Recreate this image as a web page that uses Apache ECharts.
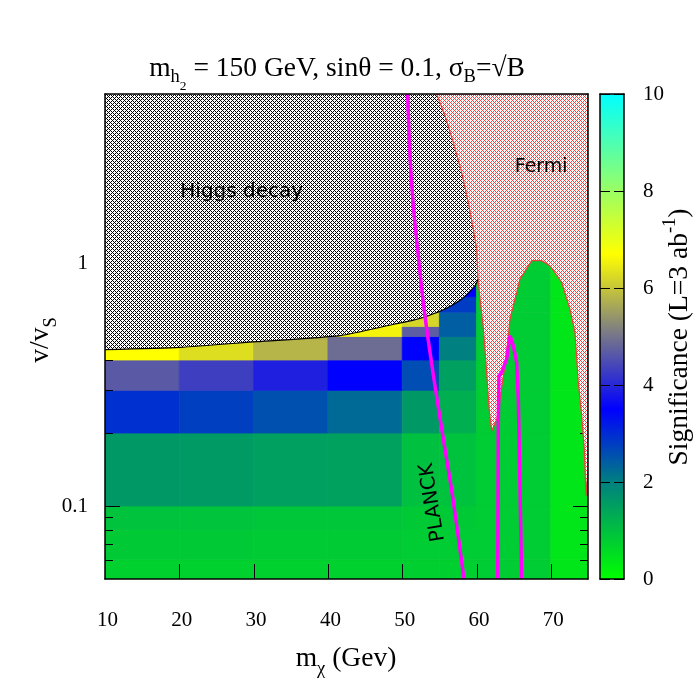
<!DOCTYPE html>
<html><head><meta charset="utf-8">
<script src="https://cdn.jsdelivr.net/npm/echarts@6/dist/echarts.min.js"></script>
<style>html,body{margin:0;padding:0;background:#fff}#c{width:700px;height:700px}</style>
</head><body><div id="c"></div>
<script>
// ---------------- data ----------------
// heat-map bin edges
const xEdges = [10, 20, 30, 40, 50, 55, 60, 70, 75];
const yEdges = [0.05, 0.06, 0.08, 0.1, 0.2, 0.3, 0.4, 0.5, 0.55, 0.63, 0.73, 5];
// significance per row (bottom -> top), per x column
const sigRow0  = [0.72, 0.72, 0.72, 0.72, 0.75, 0.75, 0.8, 0.39];
const sigRow1  = [0.85, 0.85, 0.82, 0.82, 0.8, 0.8, 0.8, 0.39];
const sigRow2  = [0.95, 0.93, 0.9, 0.9, 0.85, 0.85, 0.8, 0.39];
const sigRow3  = [1.6, 1.58, 1.5, 1.48, 1.0, 0.95, 0.8, 0.39];
const sigRow4  = [2.94, 2.75, 2.56, 2.26, 1.6, 1.25, 0.8, 0.39];
const sigRow5  = [4.65, 4.3, 3.9, 3.5, 2.6, 1.5, 0.8, 0.39];
const sigRow6  = [6.7, 6.3, 5.8, 4.9, 3.5, 2.0, 0.8, 0.39];
const sigRow7  = [6.7, 6.3, 5.8, 6.55, 4.7, 2.4, 0.8, 0.39];
const sigRow8  = [6.7, 6.3, 5.8, 6.8, 6.2, 2.4, 0.8, 0.39];
const sigRow9  = [6.7, 6.3, 5.8, 6.8, 6.2, 2.8, 0.8, 0.39];
const sigRow10 = [6.7, 6.3, 5.8, 6.8, 6.2, 3.5, 0.8, 0.39];
const sigRows = [sigRow0, sigRow1, sigRow2, sigRow3, sigRow4, sigRow5, sigRow6, sigRow7, sigRow8, sigRow9, sigRow10];

// Higgs-decay excluded region: lower boundary (left -> right)
const higgsLowX = [10, 20.09, 30.41, 41.62, 49.03, 51.27, 53.51, 55.75, 58.0, 59.79, 60.2];
const higgsLowY = [0.441, 0.451, 0.476, 0.504, 0.563, 0.581, 0.609, 0.649, 0.714, 0.81, 0.86];
// shared Higgs / Fermi boundary (top -> down)
const edgeX = [54.64, 55.75, 56.87, 58.0, 58.89, 59.56, 60.02, 60.2];
const edgeY = [5, 4.07, 3.16, 2.377, 1.788, 1.388, 1.148, 0.86];
// Fermi region remaining boundary (after shared edge, going down/right)
const fermiX = [60.5, 60.9, 61.3, 61.7, 62.04, 62.93, 63.16, 64.06, 64.5, 64.95, 65.85, 67.42, 68.77, 69.88, 71.46, 72.57, 73.25, 73.69, 74.15, 74.5, 74.73, 75, 75];
const fermiY = [0.7, 0.55, 0.38, 0.25, 0.204, 0.236, 0.276, 0.43, 0.59, 0.67, 0.863, 1.027, 1.027, 0.979, 0.837, 0.649, 0.52, 0.324, 0.236, 0.172, 0.11, 0.142, 5];

// PLANCK contours
const planck1X = [50.73, 51.04, 51.49, 52.16, 52.83, 53.67, 54.68, 55.75, 56.83, 58.31];
const planck1Y = [5, 2.783, 1.731, 1.077, 0.692, 0.444, 0.2763, 0.1718, 0.1069, 0.05];
const planck2X = [62.85, 62.93, 63.02, 63.38, 64.06, 64.5, 64.95, 65.4, 65.62, 65.75, 66.07];
const planck2Y = [0.05, 0.2285, 0.3446, 0.356, 0.404, 0.504, 0.458, 0.391, 0.276, 0.172, 0.05];

// annotations
const annText = ['Higgs decay', 'Fermi', 'PLANCK'];
const annX = [28.4, 68.7, 54.1];
const annY = [1.97, 2.5, 0.1036];

// ticks
const xTickVals = [20, 30, 40, 50, 60, 70];
const yTickVals = [0.06, 0.07, 0.08, 0.09, 0.1, 0.2, 0.3, 0.4, 0.5, 0.6, 0.7, 0.8, 0.9, 1, 2, 3, 4];

// palette (significance -> colour)
const palStops = [0, 2, 3.5, 5.15, 6.7, 10];
const palColors = ['#00ff00', '#008080', '#0000ff', '#808080', '#ffff00', '#00ffff'];

// ---------------- helpers ----------------
function hex2rgb(h) { return [1, 3, 5].map(i => parseInt(h.substr(i, 2), 16)); }
function palette(v) {
  v = Math.max(0, Math.min(10, v));
  for (let k = 0; k < palStops.length - 1; k++) {
    if (v <= palStops[k + 1]) {
      const f = (v - palStops[k]) / (palStops[k + 1] - palStops[k]);
      const a = hex2rgb(palColors[k]), b = hex2rgb(palColors[k + 1]);
      return 'rgb(' + a.map((c, i) => Math.round(c + (b[i] - c) * f)).join(',') + ')';
    }
  }
  return palColors[palColors.length - 1];
}
function makePattern(color) {
  const c = document.createElement('canvas'); c.width = 4; c.height = 4;
  const g = c.getContext('2d');
  g.fillStyle = '#ffffff'; g.fillRect(0, 0, 4, 4);
  g.fillStyle = color;
  for (let y = 0; y < 4; y++) for (let x = 0; x < 4; x++) {
    if ((x + y) % 4 === 0 || ((x - y) % 4 + 4) % 4 === 0) g.fillRect(x, y, 1, 1);
  }
  return { type: 'pattern', image: c, repeat: 'repeat' };
}
const zip = (xs, ys) => xs.map((x, i) => [x, ys[i]]);

const cells = [];
sigRows.forEach((row, j) => row.forEach((v, i) => {
  cells.push([xEdges[i], yEdges[j], xEdges[i + 1], yEdges[j + 1], v]);
}));
const higgsPoly = zip(higgsLowX, higgsLowY).concat(zip(edgeX, edgeY).reverse()).concat([[10, 5]]);
const fermiPoly = zip(edgeX, edgeY).concat(zip(fermiX, fermiY));

const SERIF = '"Liberation Serif", "Times New Roman", serif';
const SANS = '"DejaVu Sans", sans-serif';
const higgsPat = makePattern('#000000');
const fermiPat = makePattern('#ff3a3a');

function polyRender(poly, fill, stroke) {
  return function (params, api) {
    if (params.dataIndex !== 0) return null;
    const pts = poly.map(p => api.coord(p));
    return { type: 'polygon', shape: { points: pts }, style: { fill: fill, stroke: stroke, lineWidth: stroke ? 1.2 : 0 } };
  };
}

const chart = echarts.init(document.getElementById('c'), null, { renderer: 'canvas' });
const axisLineStyle = { show: true, onZero: false, lineStyle: { color: '#000', width: 1.5 } };
const MF = '27.5px ' + SERIF, SF = '18.5px ' + SERIF, SSF = '13.5px ' + SERIF;

chart.setOption({
  animation: false,
  backgroundColor: '#ffffff',
  grid: [
    { left: 105, top: 94, width: 483, height: 485 },
    { left: 600, top: 94, width: 24, height: 485 }
  ],
  xAxis: [
    { gridIndex: 0, type: 'value', min: 10, max: 75, interval: 10, position: 'bottom', z: 6,
      axisLine: axisLineStyle, axisTick: { show: false }, splitLine: { show: false },
      axisLabel: { showMaxLabel: false, margin: 31, color: '#000', fontSize: 21, fontFamily: SERIF, padding: [0, 0, 0, 5] } },
    { gridIndex: 0, type: 'value', min: 10, max: 75, position: 'top', z: 6,
      axisLine: axisLineStyle, axisTick: { show: false }, axisLabel: { show: false }, splitLine: { show: false } },
    { gridIndex: 1, type: 'value', min: 0, max: 1, position: 'bottom', z: 6,
      axisLine: axisLineStyle, axisTick: { show: false }, axisLabel: { show: false }, splitLine: { show: false } },
    { gridIndex: 1, type: 'value', min: 0, max: 1, position: 'top', z: 6,
      axisLine: axisLineStyle, axisTick: { show: false }, axisLabel: { show: false }, splitLine: { show: false } }
  ],
  yAxis: [
    { gridIndex: 0, type: 'log', min: 0.05, max: 5, position: 'left', z: 6,
      axisLine: axisLineStyle, axisTick: { show: false }, splitLine: { show: false }, minorSplitLine: { show: false },
      axisLabel: { showMinLabel: false, showMaxLabel: false, margin: 17, color: '#000', fontSize: 21, fontFamily: SERIF } },
    { gridIndex: 0, type: 'log', min: 0.05, max: 5, position: 'right', z: 6,
      axisLine: axisLineStyle, axisTick: { show: false }, axisLabel: { show: false }, splitLine: { show: false } },
    { gridIndex: 1, type: 'value', min: 0, max: 10, interval: 2, position: 'right', z: 6,
      axisLine: axisLineStyle, splitLine: { show: false },
      axisTick: { show: true, inside: true, length: 10, lineStyle: { color: '#000', width: 1 } },
      axisLabel: { margin: 19, color: '#000', fontSize: 21, fontFamily: SERIF } },
    { gridIndex: 1, type: 'value', min: 0, max: 10, interval: 2, position: 'left', z: 6,
      axisLine: axisLineStyle, splitLine: { show: false },
      axisTick: { show: true, inside: true, length: 10, lineStyle: { color: '#000', width: 1 } },
      axisLabel: { show: false } }
  ],
  series: [
    { // significance cells
      type: 'custom', xAxisIndex: 0, yAxisIndex: 0, z: 1, clip: true,
      encode: { x: [0, 2], y: [1, 3] }, data: cells,
      renderItem: function (params, api) {
        const p0 = api.coord([api.value(0), api.value(1)]);
        const p1 = api.coord([api.value(2), api.value(3)]);
        const col = palette(api.value(4));
        return { type: 'rect', shape: { x: p0[0], y: p1[1], width: p1[0] - p0[0], height: p0[1] - p1[1] },
          style: { fill: col, stroke: col, lineWidth: 0.8 } };
      }
    },
    { // y ticks (left and right)
      type: 'custom', xAxisIndex: 0, yAxisIndex: 0, z: 2, clip: false,
      encode: { x: 0, y: 1 }, data: yTickVals.map(v => [10, v]),
      renderItem: function (params, api) {
        const v = api.value(1);
        const len = (v === 0.1 || v === 1) ? 15 : 8;
        const pl = api.coord([10, v]), pr = api.coord([75, v]);
        const y = Math.round(pl[1]) + 0.5;
        return { type: 'group', children: [
          { type: 'line', shape: { x1: pl[0], y1: y, x2: pl[0] + len, y2: y }, style: { stroke: '#000', lineWidth: 1 } },
          { type: 'line', shape: { x1: pr[0] - len, y1: y, x2: pr[0], y2: y }, style: { stroke: '#000', lineWidth: 1 } }
        ] };
      }
    },
    { // x ticks
      type: 'custom', xAxisIndex: 0, yAxisIndex: 0, z: 2, clip: false,
      encode: { x: 0, y: 1 }, data: xTickVals.map(v => [v, 0.05]),
      renderItem: function (params, api) {
        const p = api.coord([api.value(0), 0.05]);
        const x = Math.round(p[0]) + 0.5;
        return { type: 'line', shape: { x1: x, y1: p[1], x2: x, y2: p[1] - 15 }, style: { stroke: '#000', lineWidth: 1 } };
      }
    },
    { // Higgs decay region
      type: 'custom', xAxisIndex: 0, yAxisIndex: 0, z: 3, clip: true,
      encode: { x: 0, y: 1 }, data: [[10, 5]],
      renderItem: polyRender(higgsPoly, higgsPat, null)
    },
    { // Fermi region
      type: 'custom', xAxisIndex: 0, yAxisIndex: 0, z: 3, clip: true,
      encode: { x: 0, y: 1 }, data: [[75, 5]],
      renderItem: polyRender(fermiPoly, fermiPat, '#e8453c')
    },
    { // Higgs lower boundary line
      type: 'line', xAxisIndex: 0, yAxisIndex: 0, z: 3, symbol: 'none', smooth: 0.2,
      data: zip(higgsLowX, higgsLowY), lineStyle: { color: '#000', width: 1.2 }
    },
    { // PLANCK contour 1
      type: 'line', xAxisIndex: 0, yAxisIndex: 0, z: 4, symbol: 'none', smooth: 0.3,
      data: zip(planck1X, planck1Y), lineStyle: { color: '#ff00ff', width: 3.5 }
    },
    { // PLANCK contour 2
      type: 'line', xAxisIndex: 0, yAxisIndex: 0, z: 4, symbol: 'none', smooth: false,
      data: zip(planck2X, planck2Y), lineStyle: { color: '#ff00ff', width: 3.5 }
    },
    { // annotations
      type: 'custom', xAxisIndex: 0, yAxisIndex: 0, z: 5, clip: false,
      encode: { x: 0, y: 1 }, data: annX.map((x, i) => [x, annY[i], i]),
      renderItem: function (params, api) {
        const p = api.coord([api.value(0), api.value(1)]);
        const i = api.value(2);
        const rot = i === 2 ? 99 * Math.PI / 180 : 0;
        const size = i === 1 ? 19 : 20;
        return { type: 'text', x: p[0], y: p[1], rotation: rot,
          style: { text: annText[i], font: size + 'px ' + SANS, fill: '#000', align: 'center', verticalAlign: 'middle' } };
      }
    },
    { // colour bar
      type: 'custom', xAxisIndex: 2, yAxisIndex: 2, z: 1, clip: false,
      encode: { x: [0, 2], y: [1, 3] }, data: [[0, 0, 1, 10]],
      renderItem: function (params, api) {
        const p0 = api.coord([0, 0]), p1 = api.coord([1, 10]);
        return { type: 'rect', shape: { x: p0[0], y: p1[1], width: p1[0] - p0[0], height: p0[1] - p1[1] },
          style: { fill: { type: 'linear', x: 0, y: 1, x2: 0, y2: 0,
            colorStops: palStops.map((s, i) => ({ offset: s / 10, color: palColors[i] })) } } };
      }
    }
  ],
  graphic: [
    { type: 'text', x: 337, y: 55, z: 10,
      style: { text: '{m|m}{s|h}{ss|2}{m| = 150 GeV, sinθ = 0.1, σ}{s|B}{m|=√B}', align: 'center', verticalAlign: 'top', fill: '#000',
        rich: {
          m: { font: MF, verticalAlign: 'top', padding: [0, 0, 0, 0] },
          s: { font: SF, verticalAlign: 'top', padding: [13, 0, 0, 0] },
          ss: { font: SSF, verticalAlign: 'top', padding: [24, 0, 0, 0] }
        } } },
    { type: 'text', x: 346, y: 645, z: 10,
      style: { text: '{m|m}{s|χ}{m| (Gev)}', align: 'center', verticalAlign: 'top', fill: '#000',
        rich: {
          m: { font: MF, verticalAlign: 'top', padding: [0, 0, 0, 0] },
          s: { font: SF, verticalAlign: 'top', padding: [14.5, 0, 0, 0] }
        } } },
    { type: 'text', x: 27, y: 340, rotation: Math.PI / 2, z: 10,
      style: { text: '{m|v/v}{s|S}', align: 'center', verticalAlign: 'top', fill: '#000',
        rich: {
          m: { font: MF, verticalAlign: 'top', padding: [0, 0, 0, 0] },
          s: { font: SF, verticalAlign: 'top', padding: [14.5, 0, 0, 0] }
        } } },
    { type: 'text', x: 661, y: 337, rotation: Math.PI / 2, z: 10,
      style: { text: '{m|Significance (L=3 ab}{u|-1}{m|)}', align: 'center', verticalAlign: 'top', fill: '#000',
        rich: {
          m: { font: MF, verticalAlign: 'top', padding: [5, 0, 0, 0] },
          u: { font: SF, verticalAlign: 'top', padding: [0, 0, 0, 0] }
        } } }
  ]
});
</script>
</body></html>
